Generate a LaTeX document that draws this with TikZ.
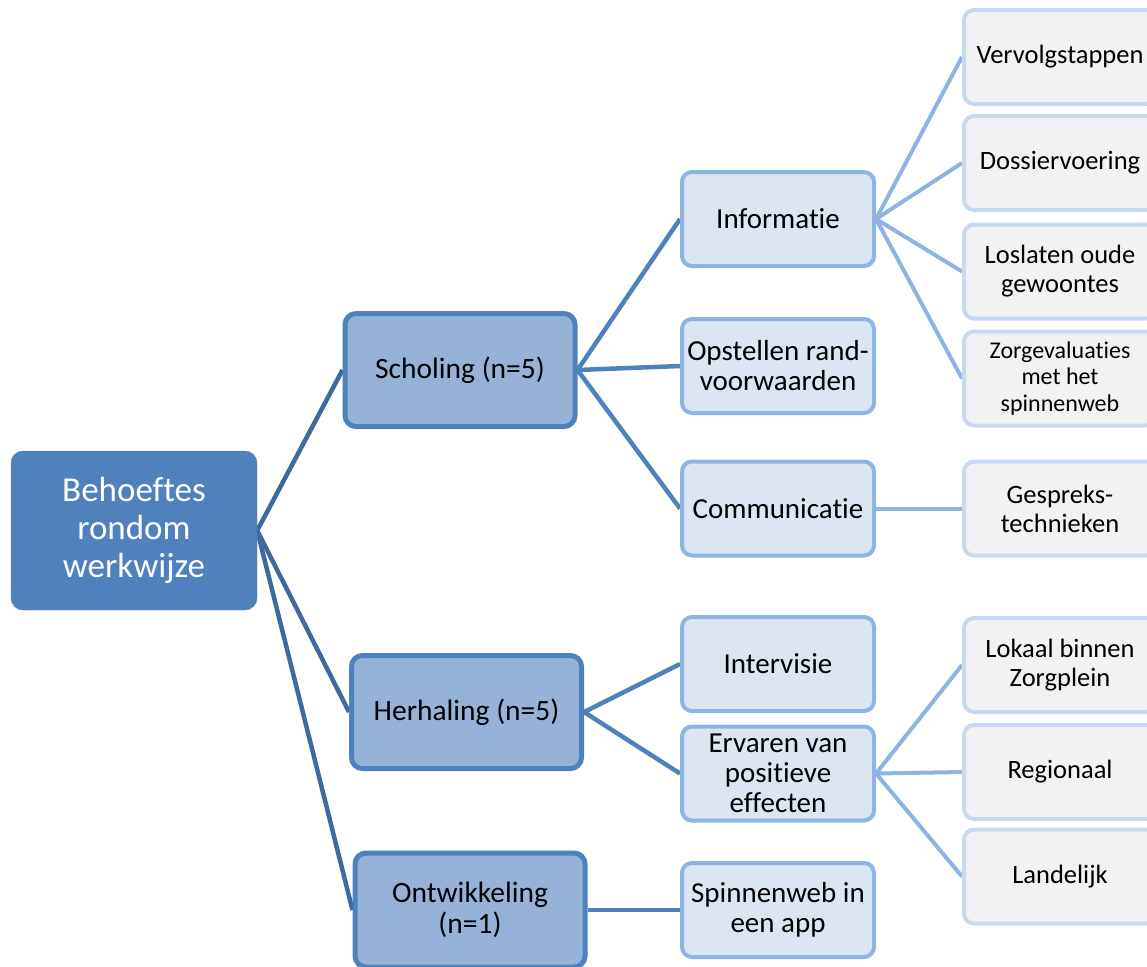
\documentclass[tikz,border=0pt]{standalone}
\usepackage{fontspec}
\setmainfont{Carlito}[Ligatures=NoCommon]
\usetikzlibrary{backgrounds}
\definecolor{rootblue}{HTML}{4F81BD}
\definecolor{lvonefill}{HTML}{95B3D7}
\definecolor{lvoneline}{HTML}{4F81BD}
\definecolor{lvtwofill}{HTML}{DCE6F2}
\definecolor{lvtwoline}{HTML}{8EB4E3}
\definecolor{lvthreefill}{HTML}{F2F2F2}
\definecolor{lvthreeline}{HTML}{C6D9F1}
\definecolor{conone}{HTML}{3E6A9E}
\definecolor{contwo}{HTML}{4F81BD}
\definecolor{conthree}{HTML}{8EB4E3}
\tikzset{
  rootbox/.style={fill=rootblue, draw=rootblue, rounded corners=12pt, align=center,
    text=white, font=\fontsize{35}{38}\selectfont, minimum width=246pt, minimum height=159pt, inner sep=0pt},
  onebox/.style={fill=lvonefill, draw=lvoneline, line width=5pt, rounded corners=11pt, align=center,
    font=\fontsize{29.5}{31}\selectfont, minimum width=230pt, minimum height=113pt, inner sep=0pt},
  twobox/.style={fill=lvtwofill, draw=lvtwoline, line width=4pt, rounded corners=10pt, align=center,
    font=\fontsize{29}{30}\selectfont, minimum width=192pt, minimum height=94pt, inner sep=0pt},
  threebox/.style={fill=lvthreefill, draw=lvthreeline, line width=4pt, rounded corners=10pt, align=center,
    font=\fontsize{26.5}{29}\selectfont, minimum width=192pt, minimum height=94pt, inner sep=0pt},
  cone/.style={draw=conone, line width=4.5pt},
  ctwo/.style={draw=contwo, line width=4.5pt},
  cthree/.style={draw=conthree, line width=4pt},
}
\begin{document}
\begin{tikzpicture}[x=1pt,y=-1pt]
\useasboundingbox (0,0) rectangle (1147,966);
\clip (0,0) rectangle (1147,966);
% root
\node[rootbox] (root) at (134,530.5) {Behoeftes\\rondom\\werkwijze};
% level 1
\node[onebox] (schol) at (460,370) {Scholing (n=5)};
\node[onebox] (herh) at (466.5,712) {Herhaling (n=5)};
\node[onebox, minimum height=114pt] (ontw) at (470,910) {Ontwikkeling\\(n=1)};
% level 2
\node[twobox] (info) at (778,219) {Informatie};
\node[twobox] (opst) at (778,366) {Opstellen rand-\\voorwaarden};
\node[twobox] (comm) at (778,508.5) {Communicatie};
\node[twobox] (inter) at (778,664) {Intervisie};
\node[twobox] (erv) at (778,773.5) {Ervaren van\\positieve\\effecten};
\node[twobox] (spin) at (778,910) {Spinnenweb in\\een app};
% level 3
\node[threebox] (verv) at (1060,57) {Vervolgstappen};
\node[threebox] (doss) at (1060,163) {Dossiervoering};
\node[threebox] (losl) at (1060,271.5) {Loslaten oude\\gewoontes};
\node[threebox, font=\fontsize{24}{26.5}\selectfont] (zorg) at (1060,378.5) {Zorgevaluaties\\met het\\spinnenweb};
\node[threebox] (gesp) at (1060,508.5) {Gespreks-\\technieken};
\node[threebox] (lok) at (1060,665) {Lokaal binnen\\Zorgplein};
\node[threebox] (reg) at (1060,772) {Regionaal};
\node[threebox] (land) at (1060,876.5) {Landelijk};
\begin{scope}[on background layer]
\draw[cone] (root.east) -- (schol.west);
\draw[cone] (root.east) -- (herh.west);
\draw[cone] (root.east) -- (ontw.west);
\draw[ctwo] (schol.east) -- (info.west);
\draw[ctwo] (schol.east) -- (opst.west);
\draw[ctwo] (schol.east) -- (comm.west);
\draw[ctwo] (herh.east) -- (inter.west);
\draw[ctwo] (herh.east) -- (erv.west);
\draw[ctwo] (ontw.east) -- (spin.west);
\draw[cthree] (info.east) -- (verv.west);
\draw[cthree] (info.east) -- (doss.west);
\draw[cthree] (info.east) -- (losl.west);
\draw[cthree] (info.east) -- (zorg.west);
\draw[cthree] (comm.east) -- (gesp.west);
\draw[cthree] (erv.east) -- (lok.west);
\draw[cthree] (erv.east) -- (reg.west);
\draw[cthree] (erv.east) -- (land.west);
\end{scope}
\end{tikzpicture}
\end{document}
